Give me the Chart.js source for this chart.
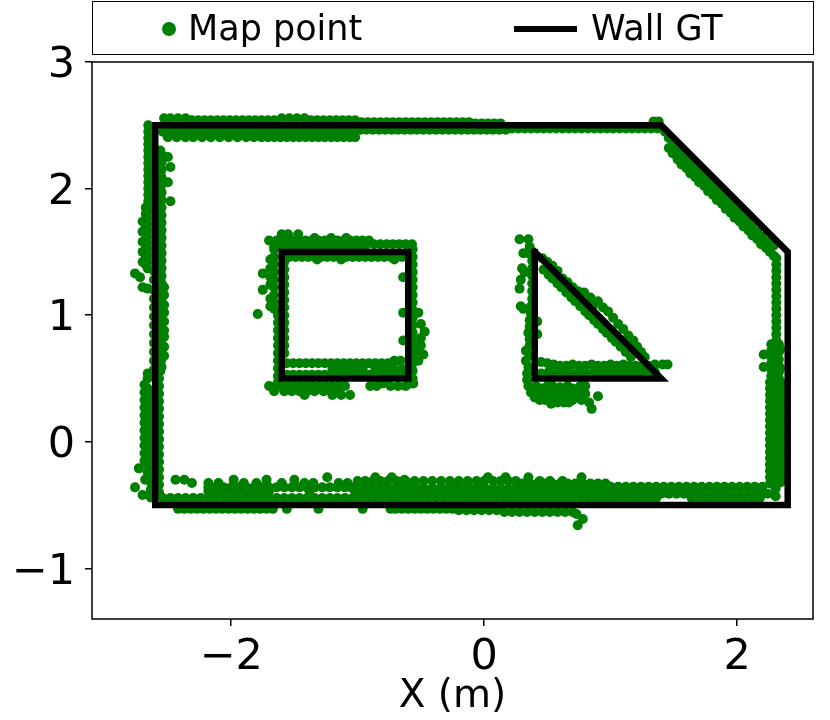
<!DOCTYPE html>
<html>
<head>
<meta charset="utf-8">
<title>Map points</title>
<script src="https://cdn.jsdelivr.net/npm/chart.js@4"></script>
<style>
  html, body { margin: 0; background: #fff; }
  #wrap { position: relative; width: 830px; height: 720px; overflow: hidden; font-family: "DejaVu Sans", sans-serif; }
  canvas { position: absolute; left: 0; top: 0; }
  #legend { position: absolute; left: 92px; top: 1px; width: 720px; height: 52px; border: 1.5px solid #000; }
  #legend span { position: absolute; }
  .lbl { font-size: 35px; line-height: 40px; top: 6px; color: #000; white-space: nowrap; }
</style>
</head>
<body>
<div id="wrap">
  <canvas id="chart" width="830" height="720"></canvas>
  <div id="legend">
    <span style="left:69px;top:20px;width:14px;height:14px;border-radius:50%;background:#008000"></span>
    <span class="lbl" style="left:95px">Map point</span>
    <span style="left:421px;top:24px;width:63px;height:6px;background:#000"></span>
    <span class="lbl" style="left:498px">Wall GT</span>
  </div>
</div>
<script>
const xTicks = [-2, 0, 2];
const yTicks = [-1, 0, 1, 2, 3];
const xLimits = [-3.1, 2.6];
const yLimits = [-1.4, 3];

// ground truth walls
const outerWall = [[-2.6,2.5],[1.4,2.5],[2.4,1.5],[2.4,-0.5],[-2.6,-0.5],[-2.6,2.5]];
const squareWall = [[-1.6,1.5],[-0.6,1.5],[-0.6,0.5],[-1.6,0.5],[-1.6,1.5]];
const triangleWall = [[0.4,1.5],[1.4,0.5],[0.4,0.5],[0.4,1.5]];

// map points. Rows: first number is y, the rest x. Cols: first number is x, the rest y.
const topRows = [
  [2.555,-2.53,-2.48,-2.42,-2.36,-1.6,-1.54,-1.48,-1.42],
  [2.54,-2.31,-2.26,-2.21,-2.16,-2.11,-2.06,-2.01,-1.96,-1.91,-1.86,-1.81,-1.76,-1.71,-1.66,-1.37,-1.32,-1.27,-1.22,-1.17,-1.12,-1.07,-1.02],
  [2.525,-0.97,-0.92,-0.87,-0.82,-0.77,-0.72,-0.67,-0.62,-0.57,-0.52,-0.47,-0.42,-0.37,-0.32,-0.27,-0.22,-0.17,-0.12],
  [2.515,-0.07,-0.02,0.03,0.08,0.13],
  [2.45,-2.54,-2.49,-2.44,-2.39,-2.34,-2.29,-2.24,-2.19,-2.14,-2.09,-2.04,-1.99,-1.94,-1.89,-1.84,-1.79,-1.74,-1.69,-1.64,-1.59,-1.54,-1.49,-1.44,-1.39,-1.34,-1.29,-1.24,-1.19,-1.14,-1.09,-1.04],
  [2.405,-2.5,-2.43,-2.36,-2.3,-2.23,-2.16,-2.09,-2.02,-1.95,-1.88,-1.82,-1.76,-1.71,-1.66,-1.61,-1.56,-1.51,-1.46,-1.41,-1.36,-1.31,-1.26,-1.21,-1.16,-1.11,-1.06,-1.02],
  [2.465,-0.98,-0.93,-0.88,-0.83,-0.78,-0.73,-0.68,-0.63,-0.58,-0.53,-0.48,-0.43,-0.38,-0.33,-0.28,-0.23,-0.18,-0.13,-0.08,-0.03,0.02,0.07,0.12,0.17],
  [2.475,0.22,0.27,0.32,0.37,0.42,0.47,0.52,0.57,0.62,0.67,0.72,0.77,0.82,0.87,0.92,0.97,1.02,1.07,1.12,1.17,1.22,1.27,1.32,1.37],
  [2.53,1.34,1.38]
];
const diagonalPoints = [
  [1.46,2.32],[1.49,2.28],[1.53,2.23],[1.56,2.19],[1.6,2.16],[1.63,2.12],[1.67,2.09],[1.7,2.05],[1.74,2.02],[1.77,1.98],[1.81,1.95],[1.84,1.91],[1.88,1.88],
  [1.91,1.84],[1.95,1.81],[1.98,1.77],[2.02,1.74],[2.05,1.7],[2.09,1.67],[2.12,1.63],[2.16,1.6],[2.19,1.56],[2.23,1.53],[2.26,1.5],[2.29,1.47],
  [1.48,2.31],[1.51,2.27],[1.55,2.24],[1.58,2.2],[1.62,2.16],[1.65,2.13],[1.69,2.09],[1.72,2.06],[1.76,2.02],[1.79,1.99],[1.83,1.95],[1.86,1.92],[1.9,1.88],
  [1.93,1.85],[1.97,1.81],[2,1.78],[2.04,1.74],[2.07,1.71],[2.11,1.67],[2.14,1.64],[2.18,1.6],[2.21,1.57],[2.25,1.53],
  [1.43,2.45],[1.46,2.4],[1.5,2.35],[1.53,2.31],[1.57,2.28],[1.6,2.24],[1.64,2.21],[1.67,2.17],[1.71,2.12],[1.74,2.09],[1.78,2.05],[1.81,2.02],[1.85,1.98],
  [1.88,1.94],[1.92,1.91],[1.95,1.87],[1.99,1.84],[2.02,1.8],[2.06,1.77],[2.09,1.73],[2.12,1.69],[2.16,1.66],[2.2,1.62],[2.25,1.58],[2.29,1.55]
];
const rightCols = [
  [2.31,1.45,1.4,1.35,1.3,1.25,1.2,1.15,1.1,1.05,1,0.95,0.9,0.85,0.8],
  [2.27,0.77,0.72,0.67,0.62,0.57,0.52],
  [2.33,0.77,0.71,0.65,0.6,0.55,0.5],
  [2.21,0.69,0.59],
  [2.34,0.73,0.58],
  [2.26,0.47,0.42,0.37,0.32,0.27,0.22,0.17,0.12,0.07,0.02,-0.03,-0.08,-0.13,-0.18,-0.23,-0.28,-0.33],
  [2.305,0.47,0.41,0.35,0.29,0.23,0.17,0.11,0.05,-0.01,-0.07,-0.13,-0.19,-0.25,-0.31,-0.37,-0.43],
  [2.345,0.47,0.42,0.37,0.32,0.27,0.22,0.17,0.12,0.07,0.02,-0.03,-0.08,-0.13,-0.18,-0.23,-0.28,-0.32]
];
const bottomRows = [
  [-0.355,2.2,2.14,2.08,2.02,1.96,1.9,1.84,1.78,1.72,1.66,1.6,1.54,1.48,1.42,1.36,1.3,1.24,1.18,1.12,1.06,1.0],
  [-0.41,2.24,2.18,2.12,2.06,2,1.94,1.88,1.82,1.76,1.7,1.64,1.58,1.52,1.46,1.4,1.34,1.28,1.22,1.16,1.1,1.04,0.98,0.92,0.86,0.8,0.74,0.68,0.62,0.56,0.5,0.44,0.38,0.32,0.26,0.2,0.14,0.08,0.02,-0.04,-0.1,-0.16,-0.22,-0.28,-0.34,-0.4,-0.46,-0.52,-0.58,-0.64,-0.7,-0.76,-0.82,-0.88,-0.94,-1],
  [-0.445,2.18,2.12,2.06,2,1.94,1.88,1.82,1.76,1.7,1.64,1.36,1.3,1.24,1.18,1.12,1.06,1,0.94,0.88,0.82,0.76,0.7,0.64,0.58,0.52,0.46,0.4,0.34,0.28,0.22,0.16,0.1,0.04,-0.02,-0.08,-0.14,-0.2,-0.26,-0.32,-0.38,-0.44,-0.5,-0.56,-0.62,-0.68,-0.74,-0.8,-0.86,-0.92,-0.98,-1.04,-1.1,-1.16,-1.22,-1.28,-1.34,-1.4,-1.46,-1.52,-1.58,-1.64,-1.7,-1.76,-1.82,-1.88,-1.94,-2,-2.06,-2.12,-2.18,-2.24,-2.3,-2.36,-2.42,-2.48,-2.54],
  [-0.37,1.03,0.97,0.91,0.85,0.79,0.73,0.67,0.61,0.55,0.49,0.43,0.37,0.31,0.25,0.19,0.13,0.07,0.01,-0.05,-0.11,-0.17,-0.23,-0.29,-0.35,-0.41,-0.47,-0.53,-0.59,-0.65,-0.71,-0.77,-0.83,-0.89,-0.95,-1.01],
  [-0.33,0.96,0.9,0.84,0.78,0.72,0.66,0.6,0.54,0.48,0.42,0.36,0.3],
  [-0.31,0.62,0.52,0.44,0.25,0.19,0.13,0.07,0,-0.06,-0.13,-0.2,-0.27,-0.34,-0.41,-0.48,-0.55,-0.62,-0.69,-0.76,-0.82,-0.88,-0.94,-1],
  [-0.36,-1.05,-1.1,-1.16,-1.22,-1.28,-1.34,-1.4,-1.46,-1.52,-1.58,-1.64,-1.7,-1.76,-1.82,-1.88,-1.94,-2,-2.06,-2.12,-2.18],
  [-0.39,-1.7,-1.76,-1.82,-1.88,-1.94,-2,-2.06,-2.12,-2.18,-1.02,-1.38],
  [-0.28,-1.24,0.03,0.17,0.35,0.77,-0.73,-0.86],
  [-0.3,-2.37,-2.44,-1.98,-1.72,-1.5,-0.63],
  [-0.325,-2.31,-2.18,-2.1,-1.9,-1.8,-1.6,-1.42,-1.35,-1.15,-1.08],
  [-0.53,-2.42,-2.37,-2.32,-2.27,-2.22,-2.17,-2.12,-2.07,-2.02,-1.97,-1.92,-1.87,-1.82,-1.77,-1.72,-1.67,-1.56,-1.31,-0.96,-0.74,-0.7,-0.65,-0.6,-0.55,-0.5,-0.45,-0.4,-0.35,-0.3,-0.25],
  [-0.54,-0.2,-0.14,-0.08,-0.02,0.04,0.1],
  [-0.555,0.16,0.22,0.28,0.34,0.4,0.46,0.52,0.58,0.64,0.7],
  [-0.61,0.78],[-0.66,0.74],[-0.57,0.73]
];
const leftCols = [
  [-2.655,2.5,2.45,2.4,2.35,2.3,2.25,2.2,2.15,2.1,2.05,2,1.95,1.9],
  [-2.645,2.47,2.42,2.37,2.32,2.27,2.22,2.17,2.12,2.07,2.02,1.97,1.92,1.87],
  [-2.675,1.85,1.8,1.75,1.7,1.65,1.6,1.55,1.5,1.45,1.4],
  [-2.66,1.82,1.77,1.72,1.67,1.62,1.57,1.52,1.47,1.42,1.37],
  [-2.7,1.74,1.66,1.58,1.5,1.42],
  [-2.56,2.3,2.24,2.18,2.12,2.06,2,1.94,1.88,1.82,1.76,1.7,1.64,1.58,1.52,1.46,1.4,1.34,1.28,1.22,1.16,1.1,1.04,0.98,0.92,0.86,0.8,0.74,0.68,0.62,0.56],
  [-2.55,2.27,2.21,2.15,2.09,2.03,1.97,1.91,1.85,1.79,1.73,1.67,1.61,1.55,1.49,1.43,1.37,1.31,1.25,1.19,1.13,1.07,1.01,0.95,0.89,0.83,0.77,0.71,0.65,0.59],
  [-2.61,1.35,1.28,1.2,1.13,1.06,0.99,0.92,0.85,0.78,0.71,0.64,0.57],
  [-2.53,1.22,1.16,1.08,1.02,0.95,0.88,0.83,0.75,0.68],
  [-2.48,2.17,1.9],
  [-2.5,2.25,2.05],
  [-2.76,1.33],[-2.72,1.3],[-2.7,1.22],[-2.66,1.21],
  [-2.685,0.45,0.39,0.33,0.27,0.21,0.15,0.09,0.03,-0.03,-0.09,-0.15],
  [-2.66,0.5,0.54,0.42,0.36,0.3,0.24,0.18,0.12,0.06,0,-0.06,-0.12,-0.18,-0.24],
  [-2.635,0.38,0.3,0.22,0.14,0.06,-0.02,-0.1,-0.18,-0.26,-0.32,-0.38,-0.44],
  [-2.57,0.5,0.44,0.38,0.32,0.26,0.2,0.14,0.08,0.02,-0.04,-0.1,-0.16,-0.22,-0.28,-0.34,-0.4],
  [-2.73,-0.21],[-2.76,-0.36],[-2.7,-0.42],[-2.68,-0.3]
];
const squareRows = [
  [1.64,-1.55,-1.47,-1.6],
  [1.59,-1.7,-1.64,-1.58,-1.52,-1.46,-1.41,-1.36,-1.31,-1.26,-1.21,-1.16,-1.11,-1.06,-1.01,-0.96,-0.91],
  [1.61,-1.34,-1.21,-1.09],
  [1.56,-0.87,-0.82,-0.77,-0.72,-0.67,-0.62,-0.57],
  [1.545,-1.66,-1.6,-1.54,-1.48,-1.42,-1.36,-1.3,-1.24,-1.18,-1.12,-1.06,-1,-0.94],
  [1.46,-1.54,-1.49,-1.44,-1.39,-1.34,-1.29,-1.24,-1.19,-1.14,-1.09,-1.04,-0.99,-0.94,-0.89,-0.84,-0.79,-0.74,-0.69,-0.65],
  [1.44,-1.32,-1.13,-0.71],
  [0.62,-1.56,-1.51,-1.46,-1.41,-1.36,-1.31,-1.26,-1.21,-1.16,-1.11,-1.06,-1.01,-0.96,-0.91,-0.86,-0.81,-0.76],
  [0.64,-0.71,-0.66],
  [0.575,-1.2,-1.14,-1.08,-1.02,-0.96,-0.86,-0.81,-0.76,-0.71,-0.65],
  [0.53,-1.56,-1.51,-1.46,-1.41,-1.36,-1.31,-1.26,-1.21,-1.16,-1.11,-1.06,-1.01,-0.96,-0.91,-0.86,-0.81,-0.76,-0.71,-0.65],
  [0.44,-1.7,-1.65,-1.6,-1.55,-1.5,-1.45,-1.4,-1.35,-1.3,-1.25,-1.2,-1.15,-1.1,-0.9,-0.85,-0.74,-0.68,-0.62],
  [0.4,-1.66,-1.58,-1.52,-1.46,-1.4,-1.34,-1.27,-1.21,-1.15],
  [0.37,-1.42,-1.2,-1.13,-1.06],
  [0.46,-0.8,-0.58,-0.56]
];
const squareCols = [
  [-1.66,1.52,1.46,1.4,1.34,1.28,1.22,1.16,1.1,1.05],
  [-1.69,1.44,1.37,1.3,1.24,1.13,1.07],
  [-1.63,1,0.94,0.88,0.82,0.76,0.7,0.64,0.58,0.52,0.47],
  [-1.58,1.42,1.36,1.3,1.24,1.18,1.12,1.06,1,0.94,0.88,0.82,0.76,0.7],
  [-1.75,1.33,1.2],
  [-1.79,1.01],
  [-0.565,1.52,1.46,1.4,1.34,1.28,1.22,1.16,1.1,1.04,0.98,0.92,0.86,0.8,0.74,0.68,0.62,0.56,0.5],
  [-0.52,1.02,0.72,0.64],
  [-0.5,0.93,0.82,0.76],
  [-0.47,0.87],[-0.48,0.69],
  [-0.64,1.3,1.02,0.8]
];
const trianglePoints = [
  [0.28,1.6],[0.35,1.6],[0.36,1.54],[0.31,1.49],[0.35,1.49],[0.3,1.37],[0.32,1.34],[0.29,1.28],[0.28,1.21],[0.29,1.07],[0.31,1.05],
  [0.38,1.43],[0.38,1.37],[0.38,1.31],[0.38,1.25],[0.38,1.19],[0.38,1.13],[0.37,1.07],[0.37,1.01],[0.36,0.96],[0.36,0.91],[0.42,0.95],[0.42,0.85],[0.35,0.86],[0.36,0.81],[0.36,0.76],[0.33,0.72],[0.36,0.68],[0.33,0.64],[0.35,0.59],[0.34,0.54],[0.34,0.49],[0.35,0.44],
  [0.47,1.36],[0.51,1.32],[0.54,1.29],[0.58,1.25],[0.61,1.22],[0.65,1.18],[0.69,1.14],[0.72,1.11],[0.76,1.07],[0.8,1.03],[0.83,1],[0.87,0.96],[0.9,0.93],[0.94,0.89],[0.97,0.86],[1.01,0.82],[1.04,0.79],[1.08,0.75],[1.12,0.71],[1.16,0.67],
  [0.46,1.45],[0.5,1.42],[0.54,1.39],[0.58,1.35],[0.62,1.29],[0.66,1.26],[0.7,1.22],[0.74,1.19],[0.79,1.18],[0.84,1.14],[0.9,1.11],[0.94,1.06],[0.98,1.03],[1.02,0.98],[1.06,0.93],[1.1,0.89],[1.14,0.84],[1.18,0.8],[1.21,0.75],[1.24,0.71],[1.27,0.67],[0.72,1.16],[0.86,1.07],
  [0.45,0.63],[0.5,0.62],[0.55,0.61],[0.6,0.6],[0.65,0.6],[0.7,0.61],[0.75,0.6],[0.8,0.6],[0.85,0.61],[0.9,0.6],[0.95,0.6],[1,0.61],[1.05,0.6],[1.1,0.61],[1.15,0.6],[1.2,0.6],[1.25,0.6],[1.3,0.6],[1.35,0.61],[1.41,0.61],[1.45,0.61],
  [0.45,0.54],[0.51,0.55],[0.57,0.54],[0.63,0.55],[0.69,0.54],[0.75,0.55],[0.81,0.54],[0.87,0.55],[0.93,0.54],[0.99,0.55],[1.05,0.54],[1.11,0.55],[1.17,0.54],[1.23,0.55],[1.29,0.54],[1.35,0.55],
  [0.37,0.39],[0.4,0.35],[0.44,0.33],[0.48,0.33],[0.41,0.44],[0.45,0.42],[0.5,0.44],[0.52,0.38],[0.55,0.35],[0.58,0.31],[0.6,0.43],[0.63,0.36],[0.67,0.31],[0.7,0.42],[0.72,0.36],[0.76,0.44],[0.77,0.33],[0.8,0.38],[0.83,0.31],[0.85,0.26],[0.9,0.36],[0.53,0.3],[0.63,0.31],[0.47,0.38],[0.66,0.44],
  [0.42,0.38],[0.5,0.38],[0.56,0.41],[0.62,0.4],[0.68,0.37],[0.74,0.4],[0.58,0.37],[0.7,0.33],[0.65,0.35],[0.54,0.44],[0.8,0.44]
];

const fromRows = rows => rows.flatMap(r => r.slice(1).map(x => ({ x, y: r[0] })));
const fromCols = cols => cols.flatMap(c => c.slice(1).map(y => ({ x: c[0], y })));
const fromPairs = pts => pts.map(p => ({ x: p[0], y: p[1] }));

const mapPoints = [
  ...fromRows(topRows), ...fromPairs(diagonalPoints), ...fromCols(rightCols), ...fromRows(bottomRows),
  ...fromCols(leftCols), ...fromRows(squareRows), ...fromCols(squareCols), ...fromPairs(trianglePoints)
];

const wallStyle = { showLine: true, borderColor: '#000', borderWidth: 6.5, pointRadius: 0, borderJoinStyle: 'miter', borderCapStyle: 'square', tension: 0 };

// рамка вокруг области графика
const framePlugin = {
  id: 'frame',
  afterDraw(chart) {
    const { ctx, chartArea: a } = chart;
    ctx.save();
    ctx.strokeStyle = '#000';
    ctx.lineWidth = 1.5;
    ctx.strokeRect(a.left, a.top, a.right - a.left, a.bottom - a.top);
    ctx.restore();
  }
};

const tickText = v => String(v).replace('-', '\u2212');

new Chart(document.getElementById('chart'), {
  type: 'scatter',
  data: {
    datasets: [
      { label: 'Wall GT', data: fromPairs(outerWall), ...wallStyle },
      { label: 'Wall GT', data: fromPairs(squareWall), ...wallStyle },
      { label: 'Wall GT', data: fromPairs(triangleWall), ...wallStyle },
      { label: 'Map point', data: mapPoints, backgroundColor: '#008000', borderWidth: 0, pointRadius: 5 }
    ]
  },
  options: {
    responsive: false,
    animation: false,
    layout: { padding: { top: 62, right: 17, left: 0, bottom: 0 } },
    plugins: { legend: { display: false }, tooltip: { enabled: false } },
    scales: {
      x: {
        type: 'linear',
        min: xLimits[0],
        max: xLimits[1],
        afterBuildTicks: s => { s.ticks = xTicks.map(v => ({ value: v })); },
        afterFit: s => { s.height = 101; },
        grid: { drawOnChartArea: false, color: '#000', lineWidth: 1.5, tickLength: 7 },
        border: { display: false },
        ticks: { color: '#000', padding: 6, maxRotation: 0, font: { family: 'DejaVu Sans', size: 43 }, callback: tickText },
        title: { display: true, text: 'X (m)', color: '#000', padding: 0, font: { family: 'DejaVu Sans', size: 39 } }
      },
      y: {
        type: 'linear',
        min: yLimits[0],
        max: yLimits[1],
        afterBuildTicks: s => { s.ticks = yTicks.map(v => ({ value: v })); },
        afterFit: s => { s.width = 92; },
        grid: { drawOnChartArea: false, color: '#000', lineWidth: 1.5, tickLength: 7 },
        border: { display: false },
        ticks: { color: '#000', padding: 10, labelOffset: 4, font: { family: 'DejaVu Sans', size: 43 }, callback: tickText }
      }
    }
  },
  plugins: [framePlugin]
});
</script>
</body>
</html>
